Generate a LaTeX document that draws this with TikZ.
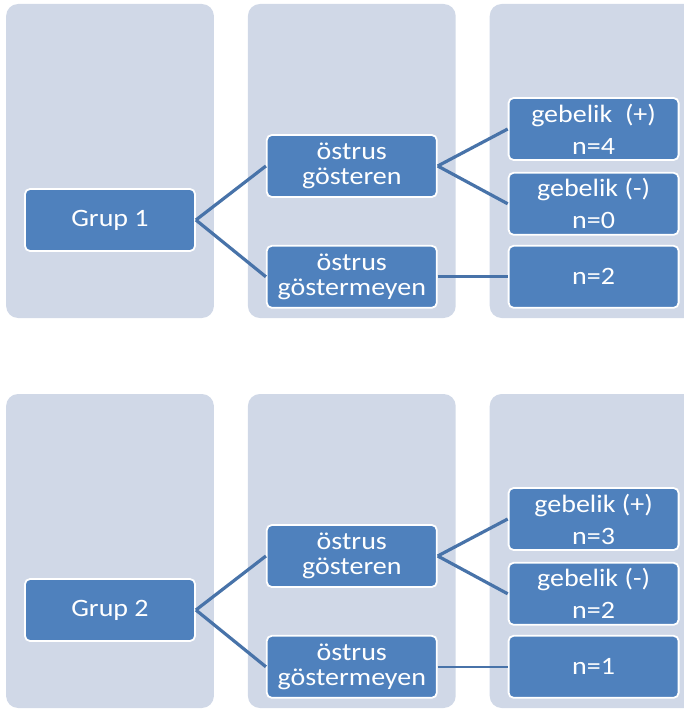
\documentclass[tikz,border=0pt]{standalone}
\usepackage{fontspec}
\setmainfont[FakeStretch=1.12]{Carlito}
\usepackage{xcolor}
\usetikzlibrary{positioning,fit,backgrounds}

\definecolor{colbg}{HTML}{D0D8E7}
\definecolor{boxfill}{HTML}{4F81BD}
\definecolor{linkblue}{HTML}{4873A9}

\begin{document}
\begin{tikzpicture}[
  x=1pt, y=1pt,
  node distance=70pt,
  box/.style={draw=white, line width=1.8pt, fill=boxfill, rounded corners=5pt,
              minimum width=170pt, minimum height=62pt, align=center,
              inner sep=2pt, text=white, font=\fontsize{25}{25}\selectfont},
  col/.style={fill=colbg, rounded corners=12pt, inner xsep=18pt, inner ysep=0pt},
  link/.style={draw=linkblue, line width=3.2pt}
]
  \useasboundingbox (0,0) rectangle (684,-714);

  \foreach \i/\dy/\pos/\neg/\non/\lw in {1/0/4/0/2/3.2, 2/390/3/2/1/1.8} {
    \begin{scope}[yshift=-\dy pt]
      \coordinate (top\i) at (0,-4);
      \coordinate (bot\i) at (0,-318);

      \node[box] (g\i) at (110,-220) {Grup \i};
      \node[box] (os\i) [right=of g\i, yshift=54pt] {östrus\\gösteren};
      \node[box] (on\i) [below=47pt of os\i] {östrus\\göstermeyen};
      \node[box] (gp\i) [right=of os\i, yshift=37pt] {gebelik\ifnum\i=1\ \fi\ (+)\\[7pt]n=\pos};
      \node[box] (gn\i) [below=11pt of gp\i] {gebelik (-)\\[7pt]n=\neg};
      \node[box] (nn\i) [right=of on\i] {n=\non};

      \draw[link] (g\i.east) -- (os\i.west);
      \draw[link] (g\i.east) -- (on\i.west);
      \draw[link] (os\i.east) -- (gp\i.west);
      \draw[link] (os\i.east) -- (gn\i.west);
      \draw[link, line width=\lw pt] (on\i.east) -- (nn\i.west);

      \begin{scope}[on background layer]
        \node[col, fit={(g\i.west |- top\i) (g\i.east |- bot\i)}] {};
        \node[col, fit={(os\i.west |- top\i) (os\i.east |- bot\i)}] {};
        \node[col, fit={(gp\i.west |- top\i) (gp\i.east |- bot\i)}] {};
      \end{scope}
    \end{scope}
  }
\end{tikzpicture}
\end{document}
